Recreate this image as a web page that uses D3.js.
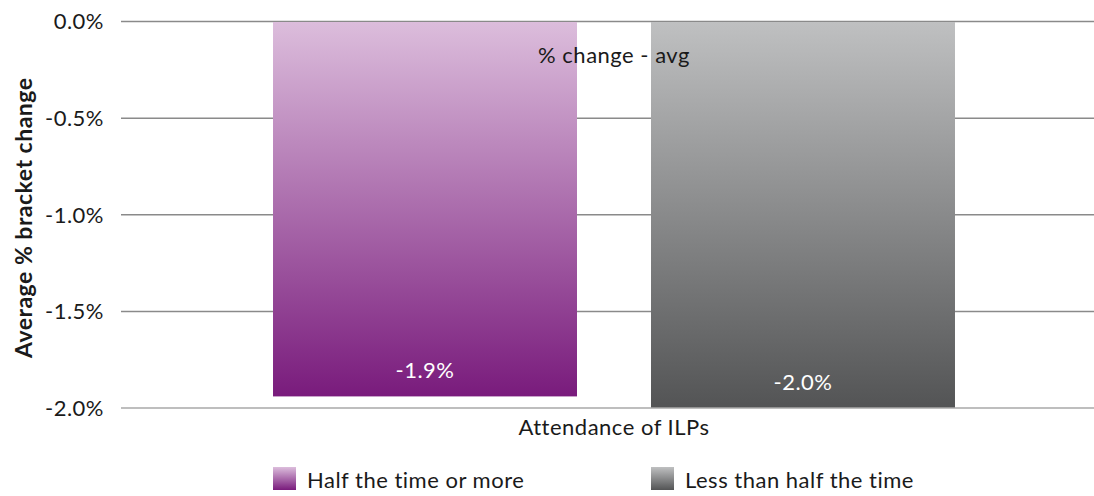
<!DOCTYPE html>
<html>
<head>
<meta charset="utf-8">
<script src="https://cdn.jsdelivr.net/npm/d3@7/dist/d3.min.js"></script>
<style>
  html, body { margin: 0; padding: 0; background: #fff; }
  svg text { font-family: "Lato", "Open Sans", sans-serif; letter-spacing: 0.5px; }
</style>
</head>
<body>
<svg id="chart" width="1094" height="496"></svg>
<script>
// Chart data
const category = "Attendance of ILPs";
const seriesNames = ["Half the time or more", "Less than half the time"];
const seriesValues = [-1.94, -2.0];
const yTicks = [0, -0.5, -1.0, -1.5, -2.0];
const seriesLabel = "% change - avg";
const yTitle = "Average % bracket change";

// Gradient stops per series (top, bottom)
const gradients = [
  ["#dcbddc", "#791b7c"],
  ["#bfc0c1", "#535455"]
];

// Percent with a plain hyphen for negatives
const pct = v => d3.format(".1f")(v).replace("\u2212", "-") + "%";

const svg = d3.select("#chart");
const margin = { left: 121, right: 1107, top: 21.5, bottom: 408 };
const fs = 22;

const y = d3.scaleLinear().domain([0, -2.0]).range([margin.top, margin.bottom]);

const x0 = d3.scaleBand().domain([category])
  .range([margin.left, margin.right])
  .paddingInner(0).paddingOuter(0.2229);
const x1 = d3.scaleBand().domain(seriesNames)
  .range([0, x0.bandwidth()])
  .paddingInner(0.1958).paddingOuter(0);

// Gradients
const defs = svg.append("defs");
gradients.forEach((g, i) => {
  const lg = defs.append("linearGradient")
    .attr("id", "grad" + i)
    .attr("x1", 0).attr("y1", 0).attr("x2", 0).attr("y2", 1);
  lg.append("stop").attr("offset", "0%").attr("stop-color", g[0]);
  lg.append("stop").attr("offset", "100%").attr("stop-color", g[1]);
});

// Gridlines
svg.append("g").selectAll("line").data(yTicks.slice(0, -1)).join("line")
  .attr("x1", margin.left).attr("x2", 1094)
  .attr("y1", d => y(d)).attr("y2", d => y(d))
  .attr("stroke", "#8a8a8a").attr("stroke-width", 1.5);

// Y tick labels
svg.append("g").selectAll("text").data(yTicks).join("text")
  .attr("x", 104).attr("y", d => y(d))
  .attr("dy", "0.36em")
  .attr("text-anchor", "end")
  .attr("font-size", fs)
  .attr("fill", "#1a1a1a")
  .text(d => pct(d));

// Bars
const bars = svg.append("g");
seriesNames.forEach((name, i) => {
  const xs = x0(category) + x1(name);
  bars.append("rect")
    .attr("x", xs)
    .attr("y", y(0) + 0.5)
    .attr("width", x1.bandwidth())
    .attr("height", y(seriesValues[i]) - y(0) - 0.5)
    .attr("fill", `url(#grad${i})`);
  bars.append("text")
    .attr("x", xs + x1.bandwidth() / 2)
    .attr("y", y(seriesValues[i]) - 26)
    .attr("dy", "0.36em")
    .attr("text-anchor", "middle")
    .attr("font-size", fs)
    .attr("fill", "#ffffff")
    .text(pct(seriesValues[i]));
});

// Bottom axis line
svg.append("line")
  .attr("x1", margin.left).attr("x2", 1094)
  .attr("y1", y(-2.0)).attr("y2", y(-2.0))
  .attr("stroke", "#a8a8a8").attr("stroke-width", 1.5);

const cx = x0(category) + x0.bandwidth() / 2;

// Series label at top
svg.append("text")
  .attr("x", cx).attr("y", 55).attr("dy", "0.36em")
  .attr("text-anchor", "middle")
  .attr("font-size", fs).attr("fill", "#1a1a1a")
  .text(seriesLabel);

// X axis title
svg.append("text")
  .attr("x", cx).attr("y", 427).attr("dy", "0.36em")
  .attr("text-anchor", "middle")
  .attr("font-size", fs).attr("fill", "#1a1a1a")
  .text(category);

// Y axis title
svg.append("text")
  .attr("transform", `translate(24, ${(y(0) + y(-2.0)) / 2 + 3}) rotate(-90)`)
  .attr("dy", "0.36em")
  .attr("text-anchor", "middle")
  .attr("font-size", 23).attr("font-weight", "bold").attr("fill", "#1a1a1a")
  .text(yTitle);

// Legend
const legend = svg.append("g");
seriesNames.forEach((name, i) => {
  const lx = x0(category) + x1(name);
  legend.append("rect")
    .attr("x", lx).attr("y", 467).attr("width", 23).attr("height", 23)
    .attr("fill", `url(#grad${i})`);
  legend.append("text")
    .attr("x", lx + 34).attr("y", 480).attr("dy", "0.36em")
    .attr("font-size", fs).attr("fill", "#1a1a1a")
    .text(name);
});
</script>
</body>
</html>
